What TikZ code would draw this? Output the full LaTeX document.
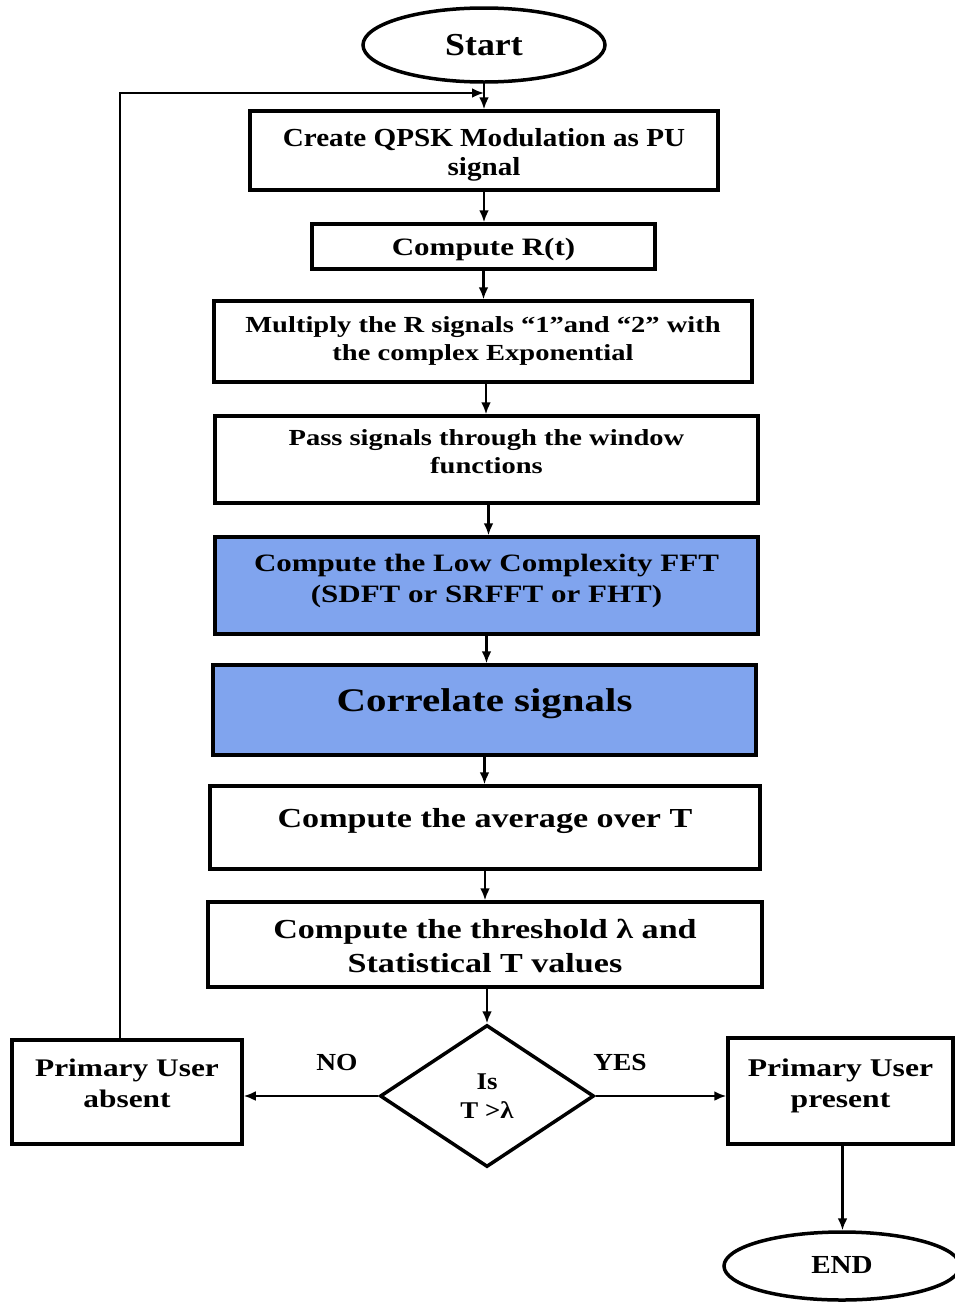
\documentclass[tikz,border=0pt]{standalone}
\usepackage{fontspec}
\setmainfont{Liberation Serif}[FakeStretch=1.12]
\newfontfamily\wf{Liberation Serif}[FakeStretch=1.24]
\usetikzlibrary{arrows.meta,shapes.geometric}
\definecolor{boxblue}{RGB}{128,164,238}
\tikzset{
  box/.style={draw, line width=3.5pt, rectangle, align=center, inner sep=0pt, text depth=0pt},
  tf/.style 2 args={font=\fontsize{#1}{#2}\selectfont\bfseries},
  wf/.style 2 args={font=\fontsize{#1}{#2}\selectfont\bfseries\wf},
  blue/.style={fill=boxblue},
  term/.style={draw, line width=3.5pt, ellipse, inner sep=0pt, text depth=0pt},
  arr/.style={-{Latex[length=12pt,width=10pt]}, line width=2.6pt},
  lbl/.style={font=\fontsize{24.5}{28}\selectfont\bfseries}
}
\begin{document}
\begin{tikzpicture}[x=1pt,y=-1pt]
\useasboundingbox (0,0) rectangle (955,1304);
\fill[white] (0,0) rectangle (955,1304);
\node[term, tf={32}{36}, text height=20pt, minimum width=242pt, minimum height=74pt] (start) at (484,45) {Start};
\node[box, tf={26}{29}, text height=50pt, minimum width=468pt, minimum height=79pt] (b1) at (484,150.5) {Create QPSK Modulation as PU\\signal};
\node[box, wf={25}{29}, text height=17pt, minimum width=343pt, minimum height=45pt] (b2) at (483.5,246.5) {Compute R(t)};
\node[box, wf={23}{28}, text height=38pt, minimum width=538pt, minimum height=81pt] (b3) at (483,341.5) {Multiply the R signals “1”and “2” with\\the complex Exponential};
\node[box, wf={23}{28}, text height=28pt, minimum width=543pt, minimum height=87pt] (b4) at (486.5,459.5) {Pass signals through the window\\functions};
\node[box, blue, wf={25}{31}, text height=34.4pt, minimum width=543pt, minimum height=97pt] (b5) at (486.5,585.5) {Compute the Low Complexity FFT\\(SDFT or SRFFT or FHT)};
\node[box, blue, wf={33}{36}, text height=3.4pt, minimum width=543pt, minimum height=90pt] (b6) at (484.5,710) {Correlate signals};
\node[box, wf={27.5}{31}, text height=0pt, text depth=1pt, minimum width=550pt, minimum height=83pt] (b7) at (485,827.5) {Compute the average over T};
\node[box, wf={27.5}{34}, text height=55pt, minimum width=554pt, minimum height=85pt] (b8) at (485,944.5) {Compute the threshold λ and\\Statistical T values};
\node[draw, line width=3.5pt, diamond, minimum width=214pt, minimum height=142pt, inner sep=0pt, align=center, tf={24}{29}, text height=44pt, text depth=0pt] (d) at (487,1096) {Is\\T >λ};
\node[box, wf={25.3}{31}, text height=30pt, minimum width=230pt, minimum height=104pt] (pa) at (127,1092) {Primary User\\absent};
\node[box, wf={25.5}{31}, text height=32pt, minimum width=225pt, minimum height=106pt] (pp) at (840.5,1091) {Primary User\\present};
\begin{scope}
\clip (0,0) rectangle (955,1304);
\node[term, tf={26}{30}, text height=14pt, minimum width=236pt, minimum height=68pt] (end) at (842,1266) {END};
\end{scope}
\coordinate (j) at (484,93);
\draw[arr] (start.south) -- (b1.north);
\draw[arr] ([xshift=-7pt]pa.north) |- (j);
\draw[arr] (b1.south) -- (b1.south |- b2.north);
\draw[arr] (b2.south) -- (b2.south |- b3.north);
\draw[arr] ([xshift=3pt]b3.south) -- ([xshift=3pt]b3.south |- b4.north);
\draw[arr] ([xshift=2pt]b4.south) -- ([xshift=2pt]b4.south |- b5.north);
\draw[arr] (b5.south) -- (b5.south |- b6.north);
\draw[arr] (b6.south) -- (b6.south |- b7.north);
\draw[arr] (b7.south) -- (b7.south |- b8.north);
\draw[arr] (d.north |- b8.south) -- (d.north);
\draw[arr] (d.west) -- (d.west -| pa.east);
\draw[arr] (d.east) -- (d.east -| pp.west);
\draw[arr] ([xshift=2pt]pp.south) -- ([xshift=2pt]pp.south |- end.north);
\node[lbl] (no) at (337,1062) {NO};
\node[lbl] (yes) at (620,1062) {YES};
\end{tikzpicture}
\end{document}
